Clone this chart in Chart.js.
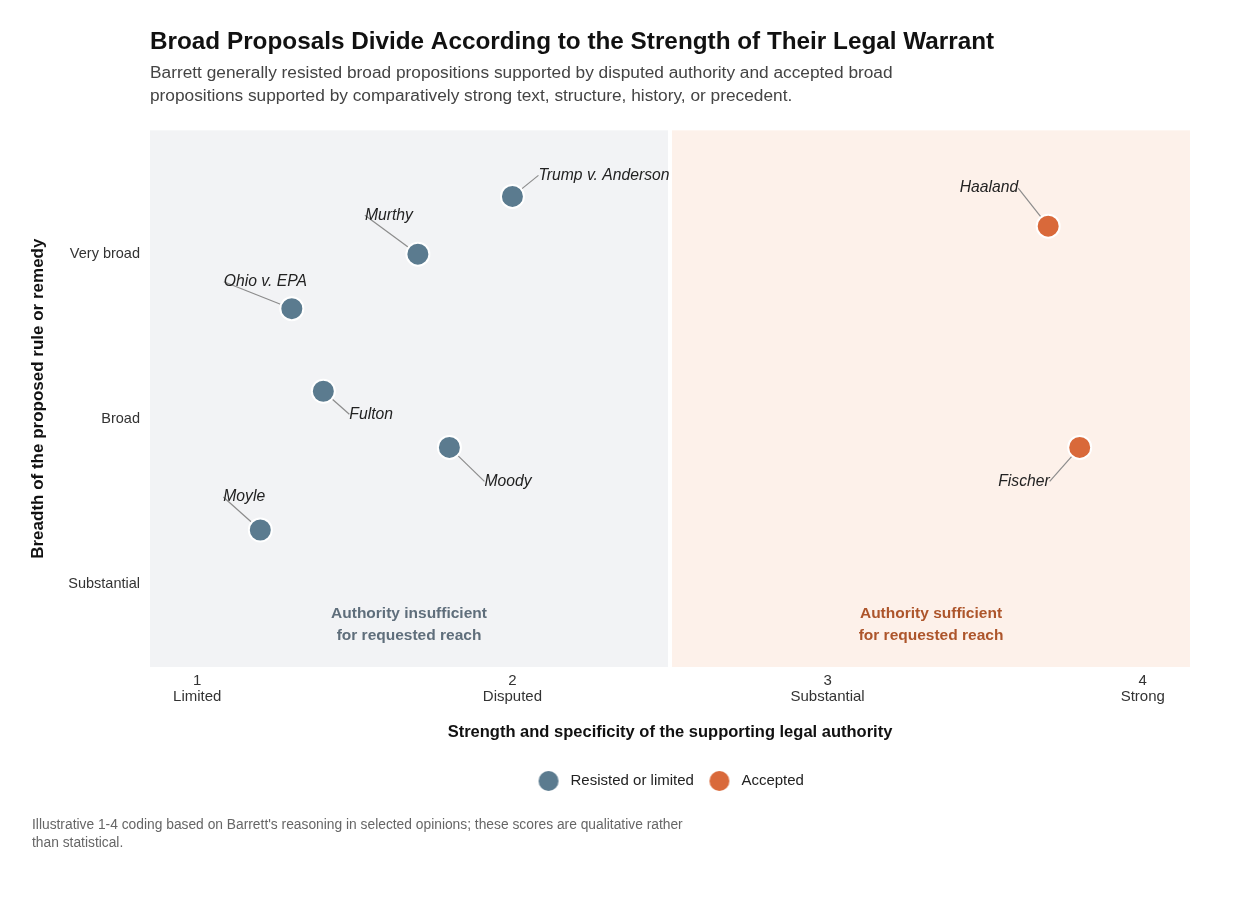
<!DOCTYPE html>
<html>
<head>
<meta charset="utf-8">
<script src="https://cdn.jsdelivr.net/npm/chart.js@4.4.1/dist/chart.umd.min.js"></script>
<style>
  html, body { margin: 0; padding: 0; background: #ffffff; }
  #wrap { position: relative; width: 1246px; height: 906px; }
  #wrap canvas { position: absolute; left: 0; top: 0; }
  #note { position: absolute; left: 32px; top: 816px; width: 720px; white-space: nowrap;
          font: 13.8px "Liberation Sans", Arial, sans-serif; line-height: 18px; color: #666; }
</style>
</head>
<body>
<div id="wrap">
  <canvas id="c" width="1246" height="906"></canvas>
  <div id="note">Illustrative 1-4 coding based on Barrett's reasoning in selected opinions; these scores are qualitative rather<br>than statistical.</div>
</div>
<script>
// ---- data ----
const cases     = ['Trump v. Anderson', 'Murthy', 'Ohio v. EPA', 'Fulton', 'Moody', 'Moyle', 'Haaland', 'Fischer'];
const authority = [2.0, 1.7, 1.3, 1.4, 1.8, 1.2, 3.7, 3.8];
const breadth   = [4.35, 4.0, 3.67, 3.17, 2.83, 2.33, 4.17, 2.83];
const outcome   = ['Resisted or limited', 'Resisted or limited', 'Resisted or limited', 'Resisted or limited',
                   'Resisted or limited', 'Resisted or limited', 'Accepted', 'Accepted'];
const seriesNames = ['Resisted or limited', 'Accepted'];
const xTickValues = [1, 2, 3, 4];
const xTickNames  = ['Limited', 'Disputed', 'Substantial', 'Strong'];
const yTickValues = [2, 3, 4];
const yTickNames  = ['Substantial', 'Broad', 'Very broad'];
const threshold = 2.5;
const regionNames = [['Authority insufficient', 'for requested reach'], ['Authority sufficient', 'for requested reach']];

// ---- styles ----
const FONT = '"Liberation Sans", Arial, Helvetica, sans-serif';
const seriesColors = ['#5b7b8f', '#d9693a'];
const regionFill = ['#f2f3f5', '#fdf1ea'];
const regionText = ['#5f6e7b', '#ad552b'];
// label placement relative to the point (pixels) and side of text
const labelPlacement = {
  'Trump v. Anderson': { dx: 26, dy: -21, align: 'left' },
  'Murthy':            { dx: -53, dy: -39, align: 'left' },
  'Ohio v. EPA':       { dx: -68, dy: -27, align: 'left' },
  'Fulton':            { dx: 26, dy: 23, align: 'left' },
  'Moody':             { dx: 35, dy: 34, align: 'left' },
  'Moyle':             { dx: -37, dy: -33, align: 'left' },
  'Haaland':           { dx: -30, dy: -38, align: 'right' },
  'Fischer':           { dx: -30, dy: 34, align: 'right' }
};

function legendImage(color) {
  const c = document.createElement('canvas');
  c.width = 40; c.height = 22;
  const g = c.getContext('2d');
  g.fillStyle = color;
  g.beginPath(); g.arc(13, 11, 10, 0, Math.PI * 2); g.fill();
  return c;
}

const datasets = seriesNames.map((name, si) => ({
  label: name,
  data: cases.map((c, i) => ({ x: authority[i], y: breadth[i], name: c, s: outcome[i] }))
             .filter(p => p.s === name),
  backgroundColor: seriesColors[si],
  borderColor: '#ffffff',
  borderWidth: 2,
  pointRadius: 11.5,
  pointHoverRadius: 11.5,
  pointHoverBorderWidth: 2
}));

const regionsPlugin = {
  id: 'regions',
  afterLayout(chart) {
    // nudge the legend to sit centred on the visual plot
    if (chart.legend) { chart.legend.left += 6; chart.legend.right += 6; }
  },
  beforeDatasetsDraw(chart) {
    const { ctx, chartArea: a, scales: { x, y } } = chart;
    const xm = x.getPixelForValue(threshold);
    ctx.save();
    ctx.fillStyle = regionFill[0];
    ctx.fillRect(a.left, a.top, xm - 2 - a.left, a.bottom - a.top);
    ctx.fillStyle = regionFill[1];
    ctx.fillRect(xm + 2, a.top, a.right - xm - 2, a.bottom - a.top);
    // region captions
    ctx.font = 'bold 15.5px ' + FONT;
    ctx.textAlign = 'center';
    ctx.textBaseline = 'middle';
    const centers = [(a.left + xm - 2) / 2, (xm + 2 + a.right) / 2];
    regionNames.forEach((lines, r) => {
      ctx.fillStyle = regionText[r];
      lines.forEach((t, li) => ctx.fillText(t, centers[r], a.bottom - 53 + li * 22));
    });
    // leader lines and case labels
    chart.data.datasets.forEach((ds, di) => {
      const meta = chart.getDatasetMeta(di);
      meta.data.forEach((pt, j) => {
        const nm = ds.data[j].name;
        const p = labelPlacement[nm];
        const lx = pt.x + p.dx, ly = pt.y + p.dy;
        ctx.strokeStyle = '#8c8c8c';
        ctx.lineWidth = 1.2;
        ctx.beginPath(); ctx.moveTo(pt.x, pt.y); ctx.lineTo(lx, ly); ctx.stroke();
        ctx.fillStyle = '#222222';
        ctx.font = 'italic 15.7px ' + FONT;
        ctx.textAlign = p.align;
        ctx.fillText(nm, lx, ly);
      });
    });
    ctx.restore();
  }
};

new Chart(document.getElementById('c'), {
  type: 'scatter',
  data: { datasets },
  plugins: [regionsPlugin],
  options: {
    responsive: false,
    animation: false,
    layout: { padding: { left: 0, right: 56, top: 0, bottom: 107.5 } },
    plugins: {
      tooltip: { enabled: false },
      title: {
        display: true, fullSize: false, align: 'start',
        text: 'Broad Proposals Divide According to the Strength of Their Legal Warrant',
        color: '#111111',
        font: { family: FONT, size: 24.3, weight: 'bold', lineHeight: 1.2 },
        padding: { top: 27.4, bottom: 0 }
      },
      subtitle: {
        display: true, fullSize: false, align: 'start',
        text: ['Barrett generally resisted broad propositions supported by disputed authority and accepted broad',
               'propositions supported by comparatively strong text, structure, history, or precedent.'],
        color: '#444444',
        font: { family: FONT, size: 17.3, lineHeight: 23 / 17.3 },
        padding: { top: 5.4, bottom: 22.4 }
      },
      legend: {
        position: 'bottom', fullSize: false,
        labels: {
          usePointStyle: true,
          padding: 25,
          color: '#222222',
          font: { family: FONT, size: 15 },
          generateLabels(chart) {
            return chart.data.datasets.map((ds, i) => ({
              text: ds.label,
              fillStyle: seriesColors[i],
              strokeStyle: seriesColors[i],
              lineWidth: 0,
              pointStyle: legendImage(seriesColors[i]),
              hidden: false,
              datasetIndex: i,
              fontColor: '#222222'
            }));
          }
        }
      }
    },
    scales: {
      x: {
        type: 'linear', min: 0.85, max: 4.15,
        grid: { display: false, drawTicks: false },
        border: { display: false },
        afterBuildTicks(s) { s.ticks = xTickValues.map(v => ({ value: v })); },
        afterFit(s) { s.height = 81.5; },
        ticks: {
          padding: 6, color: '#333333',
          font: { family: FONT, size: 15, lineHeight: 16 / 15 },
          maxRotation: 0, autoSkip: false,
          callback(v) { const i = xTickValues.indexOf(v); return [String(v), xTickNames[i]]; }
        },
        title: {
          display: true, text: 'Strength and specificity of the supporting legal authority',
          color: '#111111', font: { family: FONT, size: 16.5, weight: 'bold', lineHeight: 1.2 },
          padding: { top: 0, bottom: 6.6 }
        }
      },
      y: {
        type: 'linear', min: 1.5, max: 4.75,
        grid: { display: false, drawTicks: false },
        border: { display: false },
        afterBuildTicks(s) { s.ticks = yTickValues.map(v => ({ value: v })); },
        afterFit(s) { s.width = 150; },
        ticks: {
          padding: 10, color: '#333333',
          font: { family: FONT, size: 14.5 },
          autoSkip: false,
          callback(v) { const i = yTickValues.indexOf(v); return yTickNames[i]; }
        },
        title: {
          display: true, text: 'Breadth of the proposed rule or remedy',
          color: '#111111', font: { family: FONT, size: 17, weight: 'bold', lineHeight: 1.2 },
          padding: { top: 27.8, bottom: 0 }
        }
      }
    }
  }
});
</script>
</body>
</html>
